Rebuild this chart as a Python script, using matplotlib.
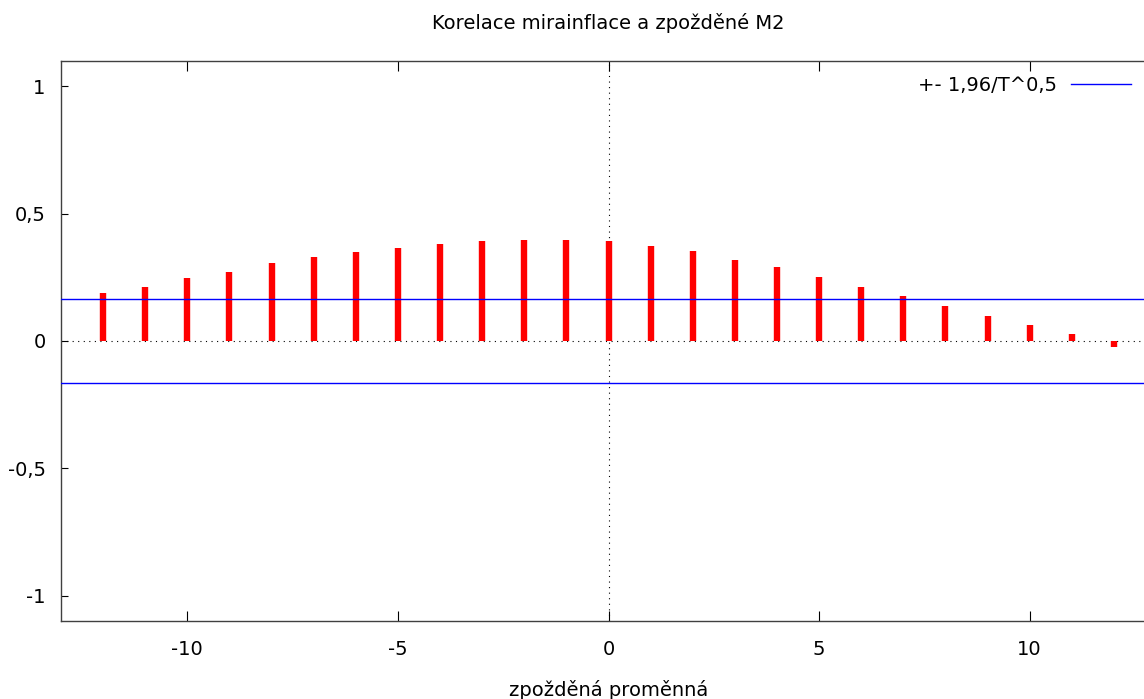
import matplotlib.pyplot as plt
import numpy as np

lags = list(range(-12, 13))
corr = [0.188, 0.214, 0.246, 0.273, 0.305, 0.331, 0.348, 0.366, 0.383, 0.392, 0.397, 0.397,
        0.392, 0.375, 0.352, 0.320, 0.289, 0.250, 0.214, 0.175, 0.138, 0.098, 0.063, 0.027, -0.025]
band = 0.165
band_label = '+- 1,96/T^0,5'
x_ticks = [-10, -5, 0, 5, 10]
y_ticks = [-1, -0.5, 0, 0.5, 1]
y_tick_labels = ['-1', '-0,5', '0', '0,5', '1']

plt.rcParams['font.family'] = ['DejaVu Sans']

fig = plt.figure(figsize=(11.44, 6.99), dpi=100)
ax = fig.add_axes([61 / 1144, 78 / 699, 1095 / 1144, 560 / 699])

ax.axhline(0, color='black', linestyle=(0, (1, 4)), linewidth=0.8, zorder=1)
ax.axvline(0, color='black', linestyle=(0, (1, 4)), linewidth=0.8, zorder=1)
ax.vlines(lags, 0, corr, colors='#ff0000', linewidth=4.6, zorder=2)
line, = ax.plot([-13, 13], [band, band], color='#0000ff', linewidth=1, zorder=3)
ax.plot([-13, 13], [-band, -band], color='#0000ff', linewidth=1, zorder=3)

ax.set_xlim(-13, 13)
ax.set_ylim(-1.1, 1.1)
ax.set_xticks(x_ticks)
ax.set_xticklabels([str(v) for v in x_ticks])
ax.set_yticks(y_ticks)
ax.set_yticklabels(y_tick_labels)
ax.tick_params(axis='x', direction='in', length=7, width=0.8, top=True, pad=14, labelsize=14)
ax.tick_params(axis='y', direction='in', length=5, width=0.8, right=True, pad=11, labelsize=14)
for s in ax.spines.values():
    s.set_color('#404040')
    s.set_linewidth(1)

ax.set_title('Korelace mirainflace a zpožděné M2', fontsize=14, pad=23)
ax.set_xlabel('zpožděná proměnná', fontsize=14, labelpad=15)

fig.legend([line], [band_label], loc='upper right', bbox_to_anchor=(1131 / 1144, 1 - 76 / 699),
           frameon=False, markerfirst=False, fontsize=14, handlelength=3.1,
           handletextpad=0.7, borderaxespad=0, borderpad=0)

fig.savefig('out.png', dpi=100)
